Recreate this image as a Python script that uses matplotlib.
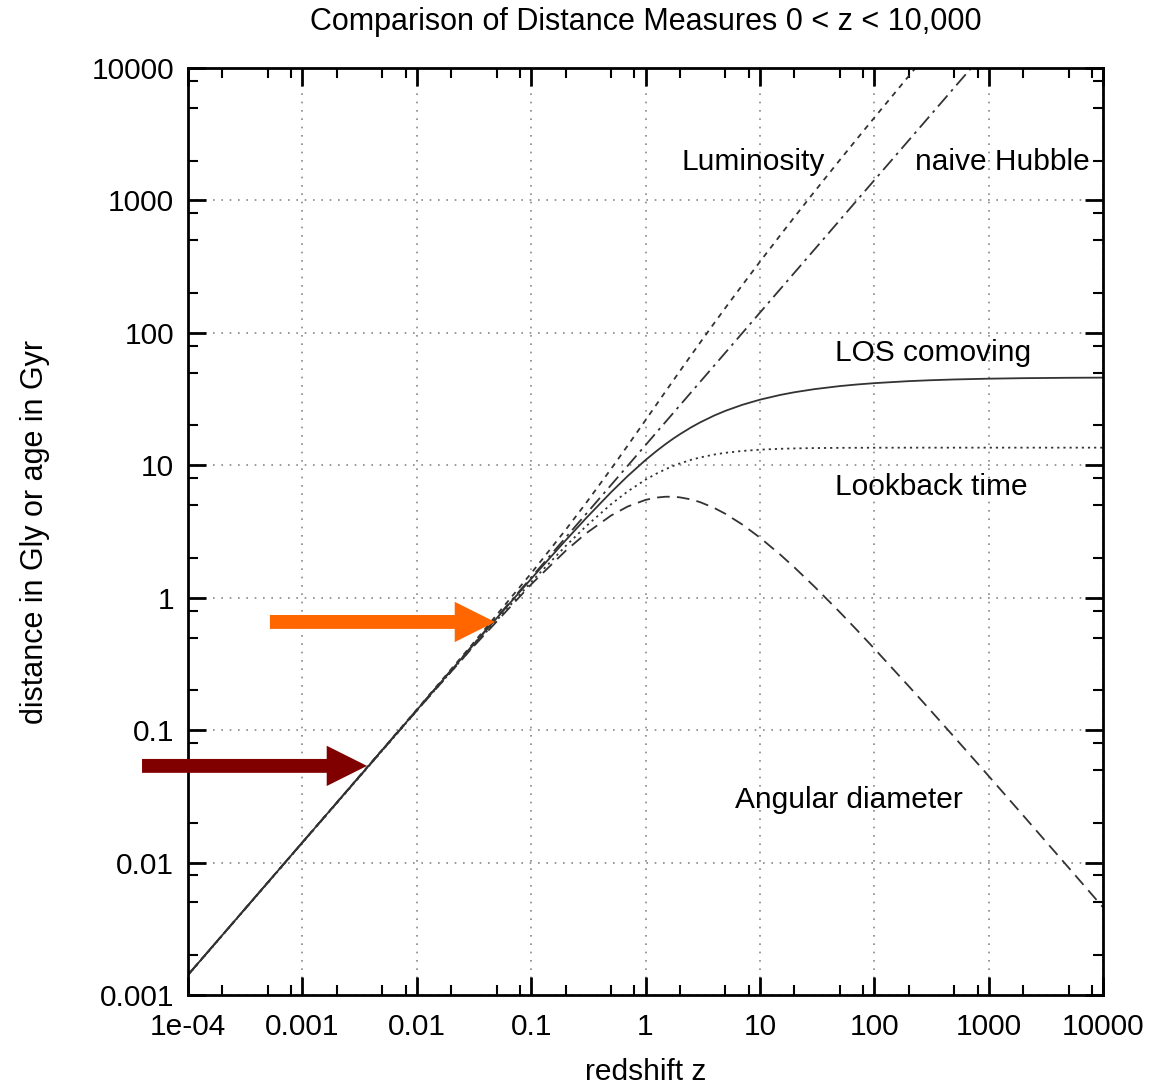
import matplotlib
matplotlib.use("Agg")
import matplotlib.pyplot as plt
from matplotlib.ticker import FixedLocator, FixedFormatter, NullFormatter

plt.rcParams['font.family'] = ['Liberation Sans', 'DejaVu Sans']

# redshift grid
z = [1e-4, 1e-3, 0.01, 0.03, 0.1, 0.2, 0.3, 0.5, 0.7, 1, 1.25, 1.5, 1.75, 2,
     2.5, 3, 4, 5, 7, 10, 15, 20, 30, 50, 70, 100, 200, 300, 500, 1000,
     2000, 5000, 10000]

los_comoving = [0.00142, 0.0142, 0.1417, 0.4232, 1.388, 2.708, 3.960, 6.262,
                8.308, 10.955, 12.83, 14.47, 15.91, 17.17, 19.32, 21.07,
                23.78, 25.78, 28.59, 31.28, 33.95, 35.59, 37.58, 39.63,
                40.72, 41.70, 43.18, 43.82, 44.46, 45.07, 45.47, 45.78, 45.90]

lookback = [0.00141, 0.01408, 0.1399, 0.4138, 1.312, 2.453, 3.448, 5.084,
            6.357, 7.783, 8.663, 9.348, 9.892, 10.33, 10.99, 11.455, 12.056,
            12.421, 12.828, 13.115, 13.318, 13.407, 13.487, 13.539, 13.557,
            13.569, 13.580, 13.583, 13.584, 13.585, 13.586, 13.586, 13.586]

luminosity = [0.00142, 0.01421, 0.1431, 0.4359, 1.529, 3.250, 5.148, 9.393,
              14.12, 21.91, 28.88, 36.18, 43.74, 51.51, 67.63, 84.28, 118.9,
              154.7, 228.7, 344.1, 543.2, 747.4, 1165, 2021, 2891, 4212,
              8679, 13190, 22274, 45115, 90985, 228946, 459046]

angular = [0.00142, 0.01419, 0.1403, 0.4109, 1.261, 2.257, 3.046, 4.175,
           4.887, 5.478, 5.704, 5.788, 5.784, 5.723, 5.521, 5.268, 4.756,
           4.297, 3.574, 2.844, 2.122, 1.695, 1.212, 0.7771, 0.5735, 0.4129,
           0.2148, 0.1456, 0.08874, 0.04503, 0.02272, 0.009154, 0.00459]

hubble_z = [1e-4, 1000]
hubble = [0.00142, 14200]

xticks = [1e-4, 1e-3, 1e-2, 1e-1, 1, 10, 100, 1000, 10000]
xlabels = ["1e-04", "0.001", "0.01", "0.1", "1", "10", "100", "1000", "10000"]
yticks = [1e-3, 1e-2, 1e-1, 1, 10, 100, 1000, 10000]
ylabels = ["0.001", "0.01", "0.1", "1", "10", "100", "1000", "10000"]

fig = plt.figure(figsize=(11.55, 10.86), dpi=100)
ax = fig.add_axes([0.1628, 0.0838, 0.7922, 0.8536])

col = "#333333"
ax.plot(z, luminosity, color=col, lw=1.3, ls=(0, (3, 3)))
ax.plot(hubble_z, hubble, color=col, lw=1.3, ls=(0, (8, 3, 1.5, 3)))
ax.plot(z, los_comoving, color=col, lw=1.3, ls="-")
ax.plot(z, lookback, color=col, lw=1.3, ls=(0, (1.2, 2.2)))
ax.plot(z, angular, color=col, lw=1.3, ls=(0, (7, 4)))

ax.set_xscale("log")
ax.set_yscale("log")
ax.set_xlim(1e-4, 1e4)
ax.set_ylim(1e-3, 1e4)

minors = [m * 10.0 ** d for d in range(-4, 4) for m in (2, 5, 8)]
ax.xaxis.set_major_locator(FixedLocator(xticks))
ax.xaxis.set_major_formatter(FixedFormatter(xlabels))
ax.xaxis.set_minor_locator(FixedLocator(minors))
ax.xaxis.set_minor_formatter(NullFormatter())
yminors = [m * 10.0 ** d for d in range(-3, 4) for m in (2, 5, 8)]
ax.yaxis.set_major_locator(FixedLocator(yticks))
ax.yaxis.set_major_formatter(FixedFormatter(ylabels))
ax.yaxis.set_minor_locator(FixedLocator(yminors))
ax.yaxis.set_minor_formatter(NullFormatter())

fs = 21.5
ax.tick_params(which="both", direction="in", top=True, right=True,
               labelsize=fs, pad=10, color="black")
ax.tick_params(which="major", length=13, width=2)
ax.tick_params(which="minor", length=7, width=1.5)
ax.tick_params(axis="x", which="major", pad=13)
for s in ax.spines.values():
    s.set_linewidth(2)

ax.grid(True, which="major", color="#888888", ls=(0, (1, 4)), lw=1.2)

ax.text(8.7, 1950, "Luminosity", fontsize=fs, ha="center", va="center")
ax.text(7700, 1950, "naive Hubble", fontsize=fs, ha="right", va="center")
ax.text(45, 70.6, "LOS comoving", fontsize=fs, ha="left", va="center")
ax.text(45, 6.87, "Lookback time", fontsize=fs, ha="left", va="center")
ax.text(6.1, 0.0297, "Angular diameter", fontsize=fs, ha="left", va="center")

# highlight arrows
ax.annotate("", xy=(0.0483, 0.656), xytext=(5.2e-4, 0.656),
            arrowprops=dict(arrowstyle="simple,head_length=2.9,head_width=2.9,tail_width=1.0",
                            mutation_scale=10, color="#ff6600", lw=0,
                            shrinkA=0, shrinkB=0))
ax.annotate("", xy=(0.00367, 0.0537), xytext=(3.96e-5, 0.0537),
            annotation_clip=False,
            arrowprops=dict(arrowstyle="simple,head_length=2.9,head_width=2.9,tail_width=1.0",
                            mutation_scale=10, color="#800000", lw=0,
                            shrinkA=0, shrinkB=0, clip_on=False))

ax.set_xlabel("redshift z", fontsize=fs, labelpad=12)
ax.set_ylabel("distance in Gly or age in Gyr", fontsize=22, labelpad=30)
fig.text(0.559, 0.980, "Comparison of Distance Measures 0 < z < 10,000",
         fontsize=22, ha="center", va="center")

fig.savefig("out.png", dpi=100)
